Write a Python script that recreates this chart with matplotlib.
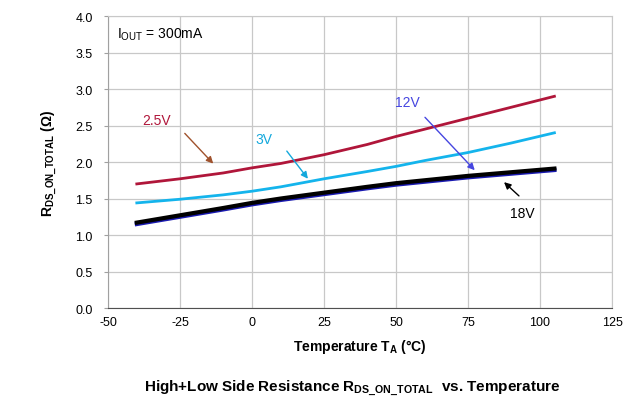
import matplotlib
matplotlib.use("Agg")
import matplotlib.pyplot as plt

plt.rcParams['font.family'] = ['Liberation Sans', 'DejaVu Sans']

temps = [-40, -25, -10, 0, 10, 25, 40, 50, 60, 75, 90, 105]
r_25v = [1.70, 1.77, 1.85, 1.92, 1.98, 2.10, 2.24, 2.35, 2.45, 2.60, 2.75, 2.90]
r_3v = [1.44, 1.49, 1.55, 1.60, 1.66, 1.77, 1.87, 1.94, 2.02, 2.13, 2.26, 2.40]
r_12v = [1.15, 1.25, 1.35, 1.42, 1.48, 1.56, 1.64, 1.69, 1.73, 1.79, 1.84, 1.89]
r_18v = [1.17, 1.27, 1.37, 1.44, 1.50, 1.58, 1.66, 1.71, 1.75, 1.81, 1.86, 1.91]

xticks = [-50, -25, 0, 25, 50, 75, 100, 125]
yticks = [0.0, 0.5, 1.0, 1.5, 2.0, 2.5, 3.0, 3.5, 4.0]

fig = plt.figure(figsize=(6.29, 4.02), dpi=100)
ax = fig.add_axes([0.1717, 0.2313, 0.8013, 0.7264])

ax.plot(temps, r_25v, color='#B0163A', lw=2.0)
ax.plot(temps, r_3v, color='#14B4EC', lw=2.0)
ax.plot(temps, r_12v, color='#1A1AB0', lw=3.0)
ax.plot(temps, r_18v, color='#000000', lw=3.0)

ax.set_xlim(-50, 125)
ax.set_ylim(0, 4.0)
ax.set_xticks(xticks)
ax.set_yticks(yticks)
ax.set_xticklabels([str(v) for v in xticks])
ax.set_yticklabels([f"{v:.1f}" for v in yticks])
ax.grid(True, color='#C8C8C8', lw=0.9)
ax.set_axisbelow(True)
for s in ['top', 'right']:
    ax.spines[s].set_color('#C8C8C8')
ax.spines['left'].set_color('#A0A0A0')
ax.spines['bottom'].set_color('#505050')
ax.tick_params(axis='x', length=0, labelsize=9, pad=6)
ax.tick_params(axis='y', length=3, color='#A0A0A0', labelsize=9, pad=8)

ax.set_xlabel(r'Temperature T$_\mathregular{A}$ (°C)', fontsize=10, fontweight='bold', labelpad=6)
ax.set_ylabel(r'R$_\mathregular{DS\_ON\_TOTAL}$ (Ω)', fontsize=10, fontweight='bold', labelpad=12)

ax.text(-47, 3.75, r'I$_\mathregular{OUT}$ = 300mA', fontsize=10, va='center', ha='left')

def ann(label, xy, xytext, tpos, color, tcolor):
    ax.annotate('', xy=xy, xytext=xytext,
                arrowprops=dict(arrowstyle='-|>', color=color, lw=1.0, mutation_scale=10))
    ax.text(tpos[0], tpos[1], label, color=tcolor, fontsize=10, ha='center', va='center')

ann('2.5V', (-12.8, 1.95), (-24, 2.42), (-33, 2.58), '#A0522D', '#B0163A')
ann('3V', (20, 1.74), (11.5, 2.18), (4, 2.31), '#14A8DC', '#14A8DC')
ann('12V', (78, 1.86), (59.4, 2.64), (54, 2.82), '#4646E0', '#4646E0')
ann('18V', (86.8, 1.75), (93.4, 1.51), (94, 1.30), '#000000', '#000000')

fig.text(0.56, 0.035, r'High+Low Side Resistance R$_\mathregular{DS\_ON\_TOTAL}$  vs. Temperature',
         ha='center', va='center', fontsize=11, fontweight='bold')

fig.savefig('out.png', dpi=100)
